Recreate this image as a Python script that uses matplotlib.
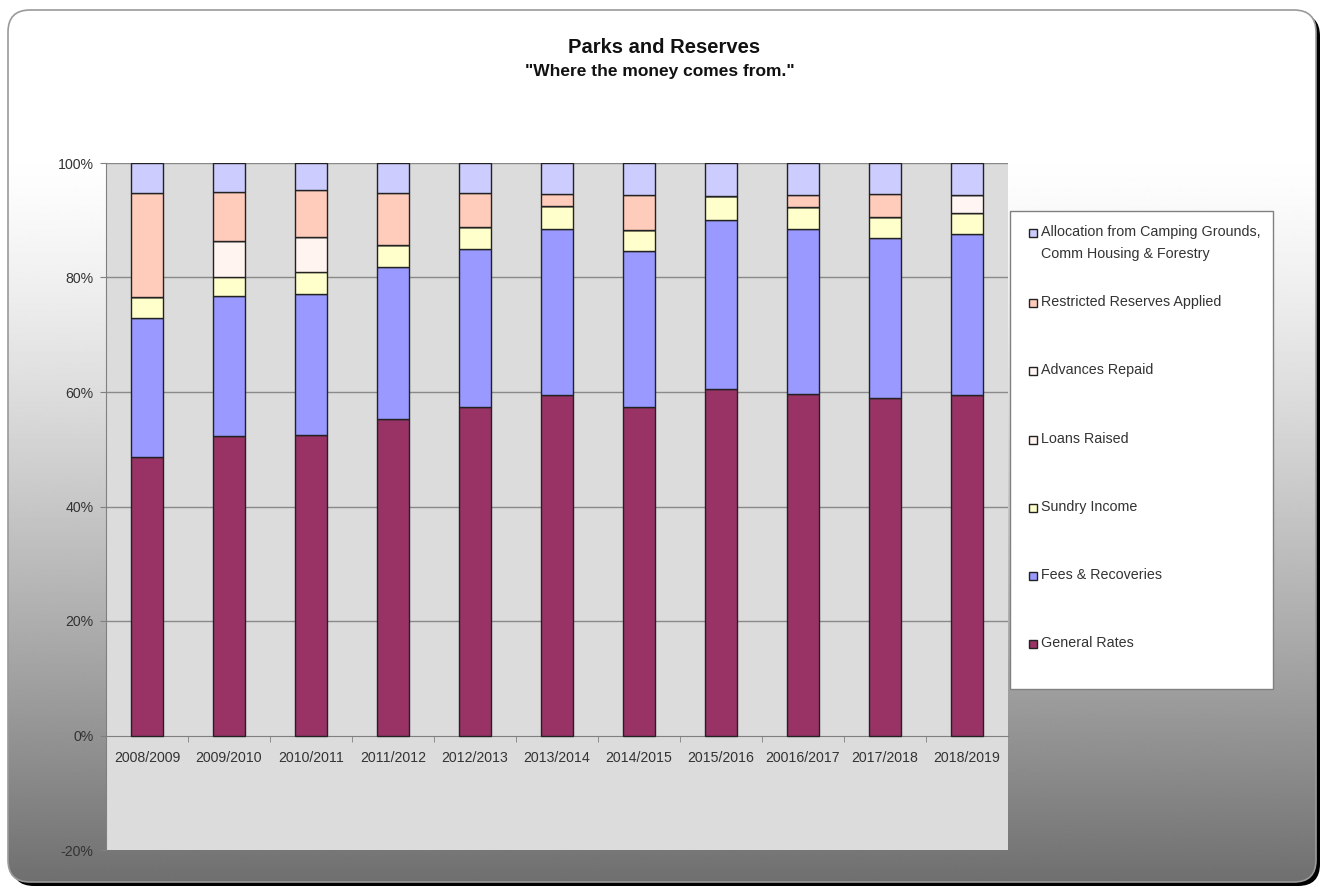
import numpy as np
import matplotlib
matplotlib.use("Agg")
import matplotlib.pyplot as plt
from matplotlib.patches import FancyBboxPatch, Rectangle

plt.rcParams['font.family'] = ['Liberation Sans', 'DejaVu Sans']

#%% dados (percentual de cada fonte de receita)
anos = ['2008/2009', '2009/2010', '2010/2011', '2011/2012', '2012/2013', '2013/2014',
        '2014/2015', '2015/2016', '20016/2017', '2017/2018', '2018/2019']

general_rates = [48.7, 52.4, 52.5, 55.3, 57.3, 59.5, 57.4, 60.6, 59.7, 58.9, 59.5]
fees_recoveries = [24.3, 24.4, 24.7, 26.6, 27.7, 28.9, 27.2, 29.5, 28.7, 28.0, 28.1]
sundry_income = [3.6, 3.2, 3.8, 3.7, 3.8, 4.1, 3.7, 4.1, 3.9, 3.6, 3.6]
loans_raised = [0, 6.4, 6.0, 0, 0, 0, 0, 0, 0, 0, 0]
advances_repaid = [0, 0, 0, 0, 0, 0, 0, 0, 0, 0, 3.2]
restricted_reserves = [18.2, 8.6, 8.2, 9.1, 5.9, 2.1, 6.1, 0, 2.1, 4.0, 0]
allocation = [5.2, 5.0, 4.8, 5.3, 5.3, 5.4, 5.6, 5.8, 5.6, 5.5, 5.6]

series = [
    ('General Rates', general_rates, '#993366'),
    ('Fees & Recoveries', fees_recoveries, '#9999FF'),
    ('Sundry Income', sundry_income, '#FFFFCC'),
    ('Loans Raised', loans_raised, '#FFF4F0'),
    ('Advances Repaid', advances_repaid, '#FFF6F4'),
    ('Restricted Reserves Applied', restricted_reserves, '#FFCCBB'),
    ('Allocation from Camping Grounds,\nComm Housing & Forestry', allocation, '#CCCCFF'),
]

yticks = [-20, 0, 20, 40, 60, 80, 100]

#%% figura
W, H = 1327, 888
fig = plt.figure(figsize=(W / 100, H / 100), dpi=100)

# fundo com degradê e cantos arredondados
bg = fig.add_axes([0, 0, 1, 1], zorder=-10)
bg.set_xlim(0, W)
bg.set_ylim(H, 0)
bg.axis('off')
sombra = FancyBboxPatch((12, 14), 1308, 872, boxstyle='round,pad=0,rounding_size=22',
                        facecolor='black', edgecolor='none', zorder=0)
bg.add_patch(sombra)
t_grad = np.clip((np.arange(H) - 150) / 738, 0, 1)
grad = 1.0 - 0.57 * t_grad ** 1.3
img = bg.imshow(np.repeat(grad[:, None], 10, axis=1), extent=[0, W, H, 0],
                cmap='gray', vmin=0, vmax=1, aspect='auto', interpolation='bilinear', zorder=1)
moldura = FancyBboxPatch((8, 10), 1308, 872, boxstyle='round,pad=0,rounding_size=22',
                         facecolor='none', edgecolor='#9a9a9a', linewidth=1.2, zorder=2)
bg.add_patch(moldura)
img.set_clip_path(moldura)

# área do gráfico
ax = fig.add_axes([106 / W, 1 - 850 / H, (1008 - 106) / W, (850 - 163) / H])
ax.set_facecolor('#dcdcdc')

x = np.arange(len(anos))
base = np.zeros(len(anos))
for nome, valores, cor in series:
    v = np.array(valores)
    ax.bar(x, v, width=0.39, bottom=base, color=cor, edgecolor='#222222',
           linewidth=1.0, label=nome, zorder=3)
    base = base + v

ax.set_xlim(-0.5, len(anos) - 0.5)
ax.set_ylim(-20, 100)
ax.set_yticks(yticks)
ax.set_yticklabels([f'{t}%' for t in yticks])
for t in yticks:
    if t > 0:
        ax.axhline(t, color='#8a8a8a', linewidth=1.0, zorder=1)

for s in ['top', 'right']:
    ax.spines[s].set_visible(False)
ax.spines['left'].set_color('#808080')
ax.spines['bottom'].set_position(('data', 0))
ax.spines['bottom'].set_color('#808080')
ax.spines['bottom'].set_zorder(2)

ax.set_xticks(x)
ax.set_xticklabels(anos)
ax.set_xticks(np.arange(len(anos) - 1) + 0.5, minor=True)
ax.tick_params(axis='x', which='major', length=0, pad=11, labelsize=10.2, labelcolor='#333333')
ax.tick_params(axis='x', which='minor', length=4, direction='out', color='#808080')
ax.tick_params(axis='y', length=4, direction='out', color='#808080', pad=5,
               labelsize=10.2, labelcolor='#333333')

# títulos
fig.text(664 / W, 1 - 47.5 / H, 'Parks and Reserves', ha='center', va='center',
         fontsize=14.5, fontweight='bold', color='#111111')
fig.text(660 / W, 1 - 71.5 / H, '"Where the money comes from."', ha='center', va='center',
         fontsize=12.5, fontweight='bold', color='#111111')

# legenda (caixa + entradas posicionadas como no original)
caixa = Rectangle((1010 / W, 1 - 689 / H), 263 / W, (689 - 211) / H, transform=fig.transFigure,
                  facecolor='white', edgecolor='#808080', linewidth=1.0, zorder=5)
fig.patches.append(caixa)
linhas_leg = [233, 303, 371, 440, 508, 576, 644]
for (nome, valores, cor), yl in zip(series[::-1], linhas_leg):
    fig.patches.append(Rectangle((1029 / W, 1 - (yl + 4) / H), 8 / W, 8 / H,
                                 transform=fig.transFigure, facecolor=cor,
                                 edgecolor='#222222', linewidth=1.0, zorder=6))
    fig.text(1041 / W, 1 - (yl - 8) / H, nome, ha='left', va='top', fontsize=10.3,
             color='#333333', linespacing=1.75, zorder=6)

fig.savefig('out.png', dpi=100)
